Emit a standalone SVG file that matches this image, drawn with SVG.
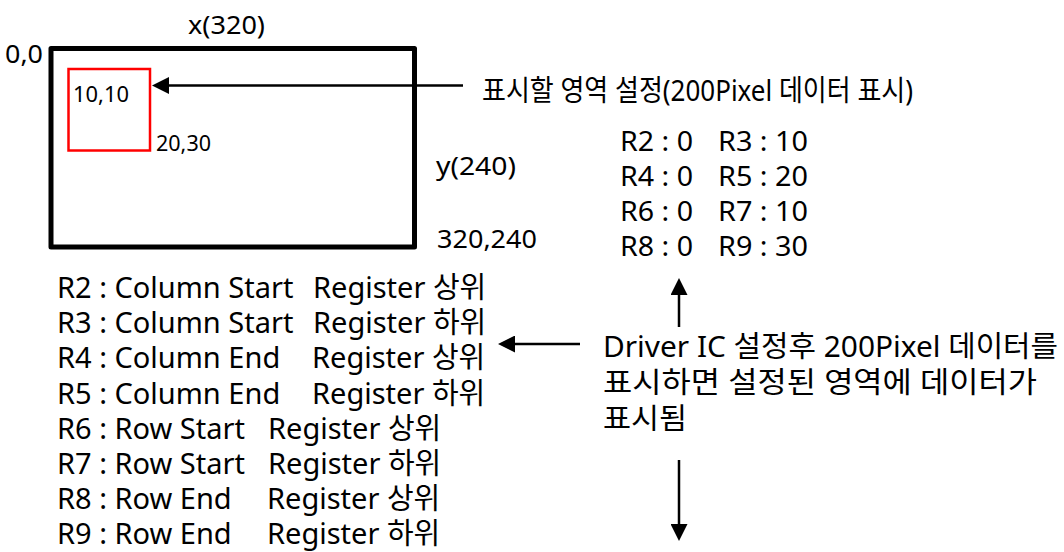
<svg xmlns="http://www.w3.org/2000/svg" width="1064" height="552" viewBox="0 0 1064 552">
  <style>
    text { font-family: "Noto Sans", "Noto Sans CJK KR", sans-serif; fill: #000; }
    .big { font-size: 29px; }
    .val { font-size: 28px; }
    .mid { font-size: 26px; }
    .small { font-size: 22px; }
    .conn { stroke: #000; stroke-width: 2.5; fill: none; }
  </style>
  <defs>
    <marker id="ah" markerUnits="userSpaceOnUse" markerWidth="17" markerHeight="17" refX="7" refY="8.5" orient="auto" viewBox="0 0 17 17">
      <path d="M0,0 L17,8.5 L0,17 z" fill="#000"/>
    </marker>
  </defs>
  <rect width="1064" height="552" fill="#fff"/>

  <g id="screen">
    <rect x="51" y="48.5" width="363.5" height="198.5" fill="none" stroke="#000" stroke-width="5" stroke-linejoin="round"/>
    <text class="mid" x="188" y="34" textLength="77" lengthAdjust="spacingAndGlyphs">x(320)</text>
    <text class="mid" x="5" y="63" font-size="27" textLength="38" lengthAdjust="spacingAndGlyphs">0,0</text>
    <text class="mid" x="436" y="175" textLength="80" lengthAdjust="spacingAndGlyphs">y(240)</text>
    <text class="mid" x="437" y="248" font-size="29" textLength="100" lengthAdjust="spacingAndGlyphs">320,240</text>
  </g>

  <g id="region">
    <rect x="68.5" y="69" width="81.5" height="81.5" fill="none" stroke="#ff0000" stroke-width="2.5"/>
    <text class="small" x="73" y="101.5" textLength="56" lengthAdjust="spacingAndGlyphs">10,10</text>
    <text class="small" x="156" y="150.5" textLength="55" lengthAdjust="spacingAndGlyphs">20,30</text>
  </g>

  <g id="title">
    <text class="big" x="482" y="101" font-size="25" textLength="431" lengthAdjust="spacingAndGlyphs">표시할 영역 설정(200Pixel 데이터 표시)</text>
  </g>

  <g id="values">
    <text class="val" x="620" y="151" textLength="73" lengthAdjust="spacingAndGlyphs">R2 : 0</text>
    <text class="val" x="718" y="151" textLength="90" lengthAdjust="spacingAndGlyphs">R3 : 10</text>
    <text class="val" x="620" y="186" textLength="73" lengthAdjust="spacingAndGlyphs">R4 : 0</text>
    <text class="val" x="718" y="186" textLength="90" lengthAdjust="spacingAndGlyphs">R5 : 20</text>
    <text class="val" x="620" y="221" textLength="73" lengthAdjust="spacingAndGlyphs">R6 : 0</text>
    <text class="val" x="718" y="221" textLength="90" lengthAdjust="spacingAndGlyphs">R7 : 10</text>
    <text class="val" x="620" y="256" textLength="73" lengthAdjust="spacingAndGlyphs">R8 : 0</text>
    <text class="val" x="718" y="256" textLength="90" lengthAdjust="spacingAndGlyphs">R9 : 30</text>
  </g>

  <g id="registers">
    <text class="big" x="57" y="298">R2 : Column Start</text>
    <text class="big" x="313" y="298">Register 상위</text>
    <text class="big" x="57" y="333.2">R3 : Column Start</text>
    <text class="big" x="313" y="333.2">Register 하위</text>
    <text class="big" x="57" y="368.4">R4 : Column End</text>
    <text class="big" x="312" y="368.4">Register 상위</text>
    <text class="big" x="57" y="403.6">R5 : Column End</text>
    <text class="big" x="312" y="403.6">Register 하위</text>
    <text class="big" x="57" y="438.8">R6 : Row Start</text>
    <text class="big" x="268" y="438.8">Register 상위</text>
    <text class="big" x="57" y="474">R7 : Row Start</text>
    <text class="big" x="268" y="474">Register 하위</text>
    <text class="big" x="57" y="509.2">R8 : Row End</text>
    <text class="big" x="267" y="509.2">Register 상위</text>
    <text class="big" x="57" y="544.4">R9 : Row End</text>
    <text class="big" x="267" y="544.4">Register 하위</text>
  </g>

  <g id="note">
    <text class="big" x="603" y="357" textLength="455" lengthAdjust="spacingAndGlyphs">Driver IC 설정후 200Pixel 데이터를</text>
    <text class="big" x="603" y="393" textLength="434" lengthAdjust="spacingAndGlyphs">표시하면 설정된 영역에 데이터가</text>
    <text class="big" x="603" y="429" textLength="84" lengthAdjust="spacingAndGlyphs">표시됨</text>
  </g>

  <g id="connectors">
    <line class="conn" x1="463" y1="85.5" x2="162" y2="85.5" marker-end="url(#ah)"/>
    <line class="conn" x1="580" y1="344" x2="508" y2="344" marker-end="url(#ah)"/>
    <line class="conn" x1="679" y1="327" x2="679" y2="288" marker-end="url(#ah)"/>
    <line class="conn" x1="679" y1="460" x2="679" y2="531" marker-end="url(#ah)"/>
  </g>
</svg>
